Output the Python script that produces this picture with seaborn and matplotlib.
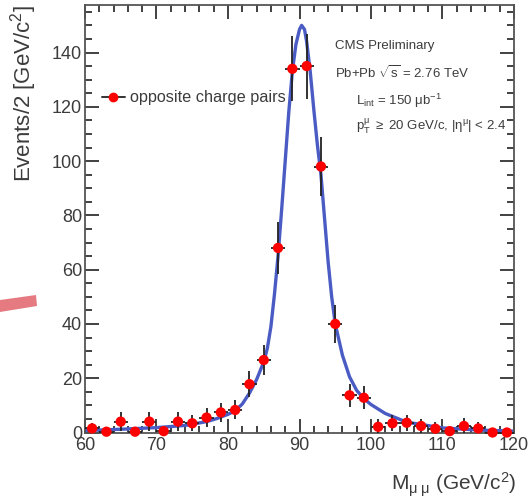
import numpy as np
import matplotlib
matplotlib.use("Agg")
import matplotlib.pyplot as plt
from matplotlib.lines import Line2D
from matplotlib.patches import Polygon
import seaborn as sns

# dimuon invariant mass, 2 GeV bins (bin centres)
mass = [61, 63, 65, 67, 69, 71, 73, 75, 77, 79,
        81, 83, 85, 87, 89, 91, 93, 95, 97, 99,
        101, 103, 105, 107, 109, 111, 113, 115, 117, 119]
counts = [1.5, 0.3, 4, 0.3, 4, 0.5, 4, 3.4, 5.5, 7.4,
          8.3, 17.8, 26.7, 68, 134, 135, 98, 40, 13.7, 12.8,
          2.1, 3.4, 3.6, 2.4, 1.4, 0.5, 2.4, 1.5, 0, 0]
count_err = [2, 1.5, 3.5, 1.5, 3.5, 1.5, 3.5, 3, 3.5, 3.5,
             3.5, 4.7, 5.5, 9.5, 12, 12, 11, 7, 4.3, 4.3,
             3, 3, 3, 2.5, 2.5, 1.5, 3, 2.5, 1, 1]
bin_half = 1.0

# fit curve
fit_x = [60, 65, 70, 74, 77, 78.5, 80, 81, 82, 83, 84, 85, 85.5, 86, 86.5, 87,
         87.5, 88, 88.5, 89, 89.5, 90, 90.3, 90.7, 91, 91.5, 92, 92.5, 93,
         93.5, 94, 94.5, 95, 96, 97, 98, 99, 100, 102, 105, 110, 115, 120]
fit_y = [0.7, 1.2, 1.8, 2.6, 4.0, 5.2, 6.7, 8.0, 10.5, 14.5, 19.5, 26, 31, 39, 51, 65,
         82, 100, 118, 133, 143, 148.5, 150, 148.5, 144, 133, 119, 106, 95,
         79, 63, 50, 40, 28.5, 20.5, 15.5, 12.5, 10.3, 7, 3.8, 1.7, 0.9, 0.5]

sns.set_style("ticks")
plt.rcParams["font.family"] = ["Liberation Sans", "DejaVu Sans"]
plt.rcParams["mathtext.fontset"] = "custom"
plt.rcParams["mathtext.rm"] = "Liberation Sans"
plt.rcParams["mathtext.it"] = "Liberation Sans:italic"
plt.rcParams["mathtext.default"] = "regular"

txt = "#3c3c3c"
W, H = 529, 497
fig = plt.figure(figsize=(W / 100, H / 100), dpi=100)
ax = fig.add_axes([85 / W, 1 - 432.5 / H, (514 - 85) / W, (432.5 - 5) / H])

sns.lineplot(x=fit_x, y=fit_y, ax=ax, color="#4a5cc4", lw=2.4, sort=False, zorder=2)

lo = np.minimum(count_err, counts)
ax.errorbar(mass, counts, xerr=bin_half, yerr=[lo, count_err], fmt="none",
            ecolor="#222222", elinewidth=1.3, capsize=0, zorder=3, clip_on=False)
sns.scatterplot(x=mass, y=counts, ax=ax, color="#ff0000", s=55, edgecolor="none",
                zorder=4, clip_on=False)

ax.set_xlim(60, 120)
ax.set_ylim(0, 157.5)
ax.set_xticks(range(60, 121, 10))
ax.set_xticks(range(60, 121, 2), minor=True)
ax.set_yticks(range(0, 141, 20))
ax.set_yticks(range(0, 156, 5), minor=True)
ax.tick_params(which="both", direction="in", top=True, right=True, color="#333333", width=1.3)
ax.tick_params(which="major", length=10, labelsize=13, labelcolor=txt, pad=2)
ax.tick_params(which="minor", length=5)
ax.tick_params(axis="x", which="major", pad=3)
for s in ax.spines.values():
    s.set_color("#555555")
    s.set_linewidth(1.3)

ax.set_ylabel("Events/2 [GeV/c$^2$]", fontsize=16, color=txt, loc="top")
ax.yaxis.set_label_coords(-0.107, 1.0)
ax.set_xlabel(r"M$_{\mu\;\mu}$ (GeV/c$^2$)", fontsize=15, color=txt, loc="right")
ax.xaxis.set_label_coords(1.006, -0.088)

handle = Line2D([], [], color="#333333", lw=1.4, marker="o", markersize=6,
                markerfacecolor="#ff0000", markeredgecolor="#ff0000")
ax.legend([handle], ["opposite charge pairs"], loc="center left",
          bbox_to_anchor=(0.0396, 0.7825), frameon=False, fontsize=11.7,
          handlelength=1.4, handletextpad=0.35, borderpad=0, borderaxespad=0,
          labelcolor=txt)

fs = 9.5
fig.text(335 / W, 1 - 46 / H, "CMS Preliminary", fontsize=fs, color=txt, va="center")
fig.text(335 / W, 1 - 73 / H, r"Pb+Pb $\sqrt{s}$ = 2.76 TeV", fontsize=fs, color=txt, va="center")
fig.text(356 / W, 1 - 101 / H, r"L$_{int}$ = 150 $\mu$b$^{-1}$", fontsize=fs, color=txt, va="center")
fig.text(356 / W, 1 - 126 / H, r"p$_T^{\mu}$ $\geq$ 20 GeV/c, |$\eta^{\mu}$| < 2.4", fontsize=fs,
         color=txt, va="center")

# stray highlighter stroke at the left edge
pts = [(0, 300), (36, 295), (37, 306), (0, 312)]
fig.add_artist(Polygon([(x / W, 1 - y / H) for x, y in pts], closed=True,
                       transform=fig.transFigure, facecolor="#e57b80", edgecolor="none"))

fig.savefig("out.png", dpi=100)
